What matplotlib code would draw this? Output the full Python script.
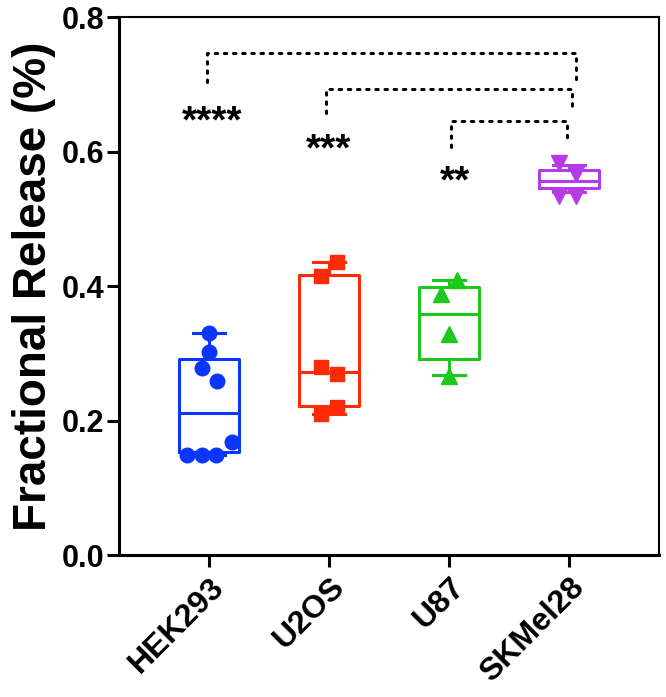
import matplotlib
matplotlib.use("Agg")
import matplotlib.pyplot as plt

plt.rcParams['font.family'] = ['Liberation Sans', 'DejaVu Sans']
plt.rcParams['font.weight'] = 'bold'

# cell lines and colours
groups = ['HEK293', 'U2OS', 'U87', 'SKMel28']
colors = ['#0A36FF', '#FF2A08', '#1CC81C', '#B43CE6']
markers = ['o', 's', '^', 'v']

# individual measurements (fractional release) and their horizontal jitter
values = [
    [0.330, 0.302, 0.278, 0.259, 0.168, 0.149, 0.149, 0.149],
    [0.436, 0.415, 0.280, 0.269, 0.220, 0.210],
    [0.409, 0.388, 0.328, 0.266],
    [0.583, 0.567, 0.534, 0.534],
]
jitter = [
    [0.0, 0.0, -0.06, 0.07, 0.19, -0.18, -0.06, 0.06],
    [0.07, -0.07, -0.07, 0.07, 0.07, -0.07],
    [0.07, -0.07, 0.0, 0.0],
    [-0.08, 0.06, -0.08, 0.06],
]

# box statistics as drawn (min, q1, median, q3, max)
box_lo = [0.149, 0.210, 0.268, 0.540]
box_q1 = [0.153, 0.222, 0.291, 0.545]
box_med = [0.211, 0.272, 0.358, 0.556]
box_q3 = [0.291, 0.416, 0.398, 0.572]
box_hi = [0.330, 0.436, 0.409, 0.580]

# significance brackets vs SKMel28: left x, right x, top y, left foot, right foot
sig_left = [-0.02, 0.975, 2.02]
sig_right = [3.06, 3.025, 2.98]
sig_top = [0.746, 0.693, 0.645]
sig_lfoot = [0.703, 0.657, 0.607]
sig_rfoot = [0.706, 0.663, 0.617]
sig_text = ['****', '***', '**']
sig_tx = [0.025, 1.0, 2.05]
sig_ty = [0.659, 0.617, 0.570]

fig = plt.figure(figsize=(6.66, 6.97), dpi=100)
ax = fig.add_axes([0.1787, 0.2037, 0.8108, 0.7719])

for i, g in enumerate(groups):
    stats = [dict(whislo=box_lo[i], q1=box_q1[i], med=box_med[i],
                  q3=box_q3[i], whishi=box_hi[i], fliers=[])]
    c = colors[i]
    ax.bxp(stats, positions=[i], widths=0.5, showfliers=False,
           boxprops=dict(color=c, linewidth=2.2),
           medianprops=dict(color=c, linewidth=2.2),
           whiskerprops=dict(color=c, linewidth=2.2),
           capprops=dict(color=c, linewidth=2.2),
           capwidths=0.27, zorder=2)
    xs = [i + j for j in jitter[i]]
    ms = 10.5 if markers[i] in ('o', 's') else 11
    ax.plot(xs, values[i], linestyle='none', marker=markers[i], color=c,
            markersize=ms, zorder=3)

dots = (0, (0.8, 2.2))
for k in range(len(sig_text)):
    xl, xr = sig_left[k], sig_right[k]
    ax.plot([xl, xl, xr, xr], [sig_lfoot[k], sig_top[k], sig_top[k], sig_rfoot[k]],
            color='black', linestyle=dots, linewidth=2.2, dash_capstyle='round')
    ax.text(sig_tx[k], sig_ty[k] - 0.016, sig_text[k], ha='center', va='center',
            fontsize=28, fontweight='bold', color='black')

ax.set_xlim(-0.75, 3.75)
ax.set_ylim(0, 0.8)
ax.set_yticks([0.0, 0.2, 0.4, 0.6, 0.8])
ax.set_yticklabels(['0.0', '0.2', '0.4', '0.6', '0.8'])
ax.set_xticks(range(len(groups)))
ax.set_xticklabels(groups, rotation=45, ha='right', rotation_mode='anchor')
ax.tick_params(axis='both', width=2.2, length=8.5, direction='out')
ax.tick_params(axis='y', labelsize=22, pad=2)
ax.tick_params(axis='x', labelsize=23, pad=4)
for lab in ax.get_xticklabels() + ax.get_yticklabels():
    lab.set_fontweight('bold')
ax.set_ylabel('Fractional Release (%)', fontsize=33, fontweight='bold', labelpad=4)

ax.spines['left'].set_linewidth(2.2)
ax.spines['bottom'].set_linewidth(2.2)
ax.spines['top'].set_linewidth(1.5)
ax.spines['right'].set_linewidth(1.5)

fig.savefig('out.png', dpi=100)
